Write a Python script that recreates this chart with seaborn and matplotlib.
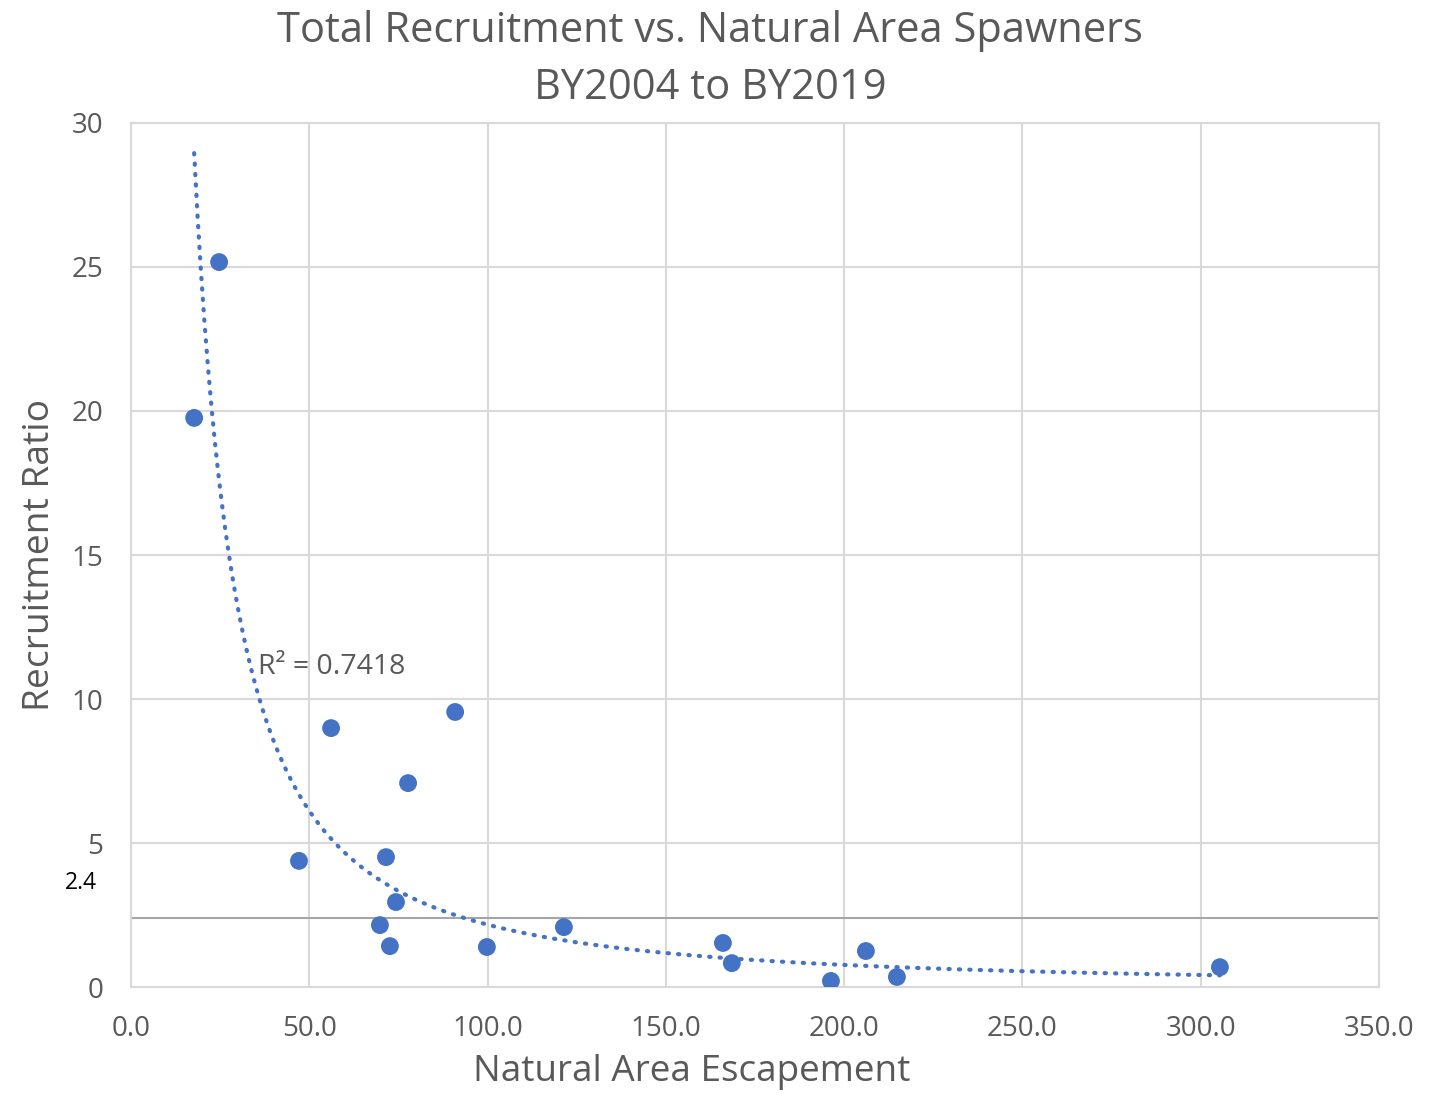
import numpy as np
import pandas as pd
import seaborn as sns
import matplotlib.pyplot as plt

# values
escapement = [17.7, 24.7, 47.1, 56.1, 69.8, 71.5, 72.6, 74.3, 77.7, 90.9,
              99.8, 121.4, 166.0, 168.5, 196.3, 206.1, 214.8, 305.4]
recruit_ratio = [19.76, 25.17, 4.38, 8.99, 2.15, 4.51, 1.42, 2.95, 7.08, 9.55,
                 1.39, 2.08, 1.53, 0.83, 0.21, 1.25, 0.35, 0.69]
x_ticks = [0, 50, 100, 150, 200, 250, 300, 350]
y_ticks = [0, 5, 10, 15, 20, 25, 30]
threshold = 2.4
r2_text = 'R² = 0.7418'

GREY = '#595959'
BLUE = '#4472C4'


def main():
    sns.set_theme(style='white')
    plt.rcParams['font.family'] = ['Open Sans', 'DejaVu Sans']

    df = pd.DataFrame({'esc': escapement, 'ratio': recruit_ratio})

    # power trendline, fitted in log space like Excel does
    b, log_a = np.polyfit(np.log(df['esc']), np.log(df['ratio']), 1)
    trend = pd.DataFrame({'esc': np.linspace(df['esc'].min(), df['esc'].max(), 300)})
    trend['ratio'] = np.exp(log_a) * trend['esc'] ** b

    fig = plt.figure(figsize=(14.37, 10.95), dpi=100)
    ax = fig.add_axes([0.0912, 0.0986, 0.8684, 0.7891])

    ax.axhline(threshold, color='#a6a6a6', lw=1.5, zorder=1)
    sns.lineplot(data=trend, x='esc', y='ratio', ax=ax, color=BLUE, lw=3,
                 linestyle=(0, (0.3, 2.2)), dash_capstyle='round', zorder=2)
    sns.scatterplot(data=df, x='esc', y='ratio', ax=ax, color=BLUE, s=165,
                    edgecolor='none', zorder=3)

    ax.set_xlim(0, 350)
    ax.set_ylim(0, 30)
    ax.set_xticks(x_ticks)
    ax.set_xticklabels([f'{v:.1f}' for v in x_ticks])
    ax.set_yticks(y_ticks)
    ax.grid(True, color='#d9d9d9', lw=1.5)
    for s in ax.spines.values():
        s.set_color('#d9d9d9')
        s.set_linewidth(1.5)
    ax.tick_params(axis='both', length=0, labelsize=20, colors=GREY)
    ax.tick_params(axis='y', pad=20)
    ax.tick_params(axis='x', pad=20)

    ax.set_xlabel('Natural Area Escapement', fontsize=26.6, color=GREY,
                  labelpad=8, x=0.4495)
    ax.set_ylabel('Recruitment Ratio', fontsize=26.8, color=GREY, labelpad=10)
    ax.set_title('Total Recruitment vs. Natural Area Spawners\nBY2004 to BY2019',
                 fontsize=30, color=GREY, pad=17.5, linespacing=1.45, x=0.464)

    ax.text(35.6, 11.1, r2_text, fontsize=20.5, color=GREY, va='center')
    ax.text(-0.027, 3.6, '2.4', transform=ax.get_yaxis_transform(),
            fontsize=16.5, color='black', ha='right', va='center', clip_on=False)

    fig.savefig('out.png', dpi=100)


if __name__ == '__main__':
    main()
